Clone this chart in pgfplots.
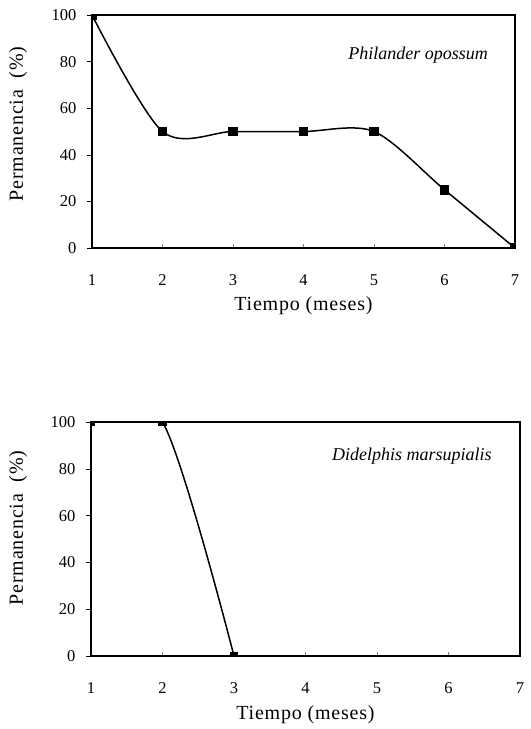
\documentclass[border=0pt]{standalone}
\usepackage{fontspec}
\setmainfont{Liberation Serif}
\newfontfamily\labelfont[LetterSpace=4]{Liberation Serif}
\usepackage{pgfplots}
\pgfplotsset{compat=1.18}

\pgfplotsset{
  permanencia/.style={
    scale only axis,
    anchor=south west,
    xmin=1, xmax=7, ymin=0, ymax=100,
    xtick={1,...,7}, ytick={0,20,...,100},
    axis line style={line width=1.8bp},
    tick align=outside,
    major tick length=5bp,
    xtick pos=bottom, ytick pos=left,
    tick style={line width=0.6bp, black},
    x tick style={yshift=4bp, draw=gray},
    /pgf/number format/assume math mode=true,
    tick label style={font=\fontsize{16.5bp}{18bp}\selectfont},
    xticklabel style={anchor=center, yshift=-27bp},
    yticklabel style={anchor=east, xshift=-7bp},
    label style={font=\labelfont\fontsize{20bp}{22bp}\selectfont},
    clip marker paths=true,
  },
  serie/.style={black, line width=1.5bp, smooth, tension=0.5,
    mark=square*, mark options={solid, fill=black}},
}

\begin{document}
\begin{tikzpicture}
\useasboundingbox (0bp,0bp) rectangle (531bp,-729bp);

% Philander opossum
\begin{axis}[permanencia,
    at={(92bp,-248bp)}, width=423bp, height=233bp,
    xlabel={Tiempo (meses)},
    ylabel={Permanencia\ \ (\%)},
    xlabel style={at={(axis description cs:0.5,-0.249)}, anchor=center},
    ylabel style={at={(axis description cs:-0.175,0.532)}, anchor=center},
  ]
  \addplot[serie, mark size=4bp] coordinates {
    (1,100) (2,50) (3,50) (4,50) (5,50) (6,25) (7,0)
  };
  \node[font=\itshape\fontsize{18bp}{20bp}\selectfont]
    at (axis description cs:0.771,0.828) {Philander opossum};
\end{axis}

% Didelphis marsupialis
\begin{axis}[permanencia,
    at={(91bp,-656bp)}, width=429bp, height=234bp,
    xlabel={Tiempo (meses)},
    ylabel={Permanencia\ \ (\%)},
    xlabel style={at={(axis description cs:0.5,-0.252)}, anchor=center},
    ylabel style={at={(axis description cs:-0.17,0.547)}, anchor=center},
  ]
  \addplot[serie, mark size=3.5bp] coordinates {
    (1,100) (2,100) (3,0)
  };
  \node[font=\itshape\fontsize{18bp}{20bp}\selectfont]
    at (axis description cs:0.748,0.855) {Didelphis marsupialis};
\end{axis}
\end{tikzpicture}
\end{document}
